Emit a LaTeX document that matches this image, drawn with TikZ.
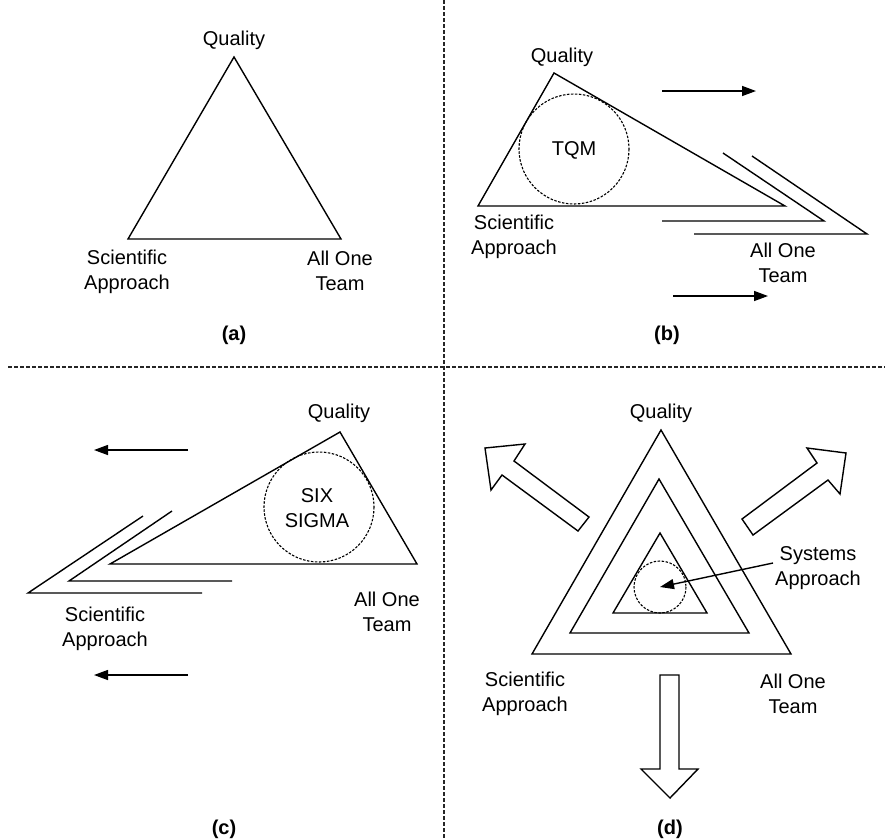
\documentclass[tikz,border=0pt]{standalone}
\usepackage{fontspec}
\setmainfont{Liberation Sans}
\usetikzlibrary{arrows.meta}

\begin{document}
\begin{tikzpicture}[x=1pt, y=-1pt, line width=1.4pt, line join=miter,
        lbl/.style={font=\fontsize{20}{25}\selectfont, align=center, inner sep=0pt},
        panelcap/.style={font=\fontsize{20}{25}\selectfont\bfseries, inner sep=0pt},
        divider/.style={line width=1.1pt, dash pattern=on 4pt off 2pt, black!85},
        halo/.style={line width=1.1pt, dash pattern=on 2.5pt off 1.5pt},
        flow/.style={-{Triangle[length=14pt, width=10pt]}}]
    \useasboundingbox (0, 0) rectangle (885, 839);

    % dividers
    \draw[divider] (8, 367) -- (885, 367);
    \draw[divider] (444, 0) -- (444, 839);

    % (a)
    \draw (234, 57) -- (128, 239) -- (341, 239) -- cycle;
    \node[lbl] (aq) at (234, 40) {Quality};
    \node[lbl] (as) at (127, 272) {Scientific\\Approach};
    \node[lbl] (at) at (340, 271) {All One\\Team};
    \node[panelcap] (acap) at (234, 335) {(a)};

    % (b)
    \draw (554, 73) -- (478, 206) -- (785, 206) -- cycle;
    \draw[halo] (574, 149) circle (55);
    \node[lbl] (btqm) at (574, 150) {TQM};
    \draw (723, 153) -- (824, 221) -- (662, 221);
    \draw (752, 156) -- (867, 234) -- (694, 234);
    \coordinate (btop1) at (662, 91);
    \coordinate (btop2) at (756, 91);
    \coordinate (bbot1) at (673, 296);
    \coordinate (bbot2) at (768, 296);
    \draw[flow] (btop1) -- (btop2);
    \draw[flow] (bbot1) -- (bbot2);
    \node[lbl] (bq) at (562, 57) {Quality};
    \node[lbl] (bs) at (514, 237) {Scientific\\Approach};
    \node[lbl] (bt) at (783, 263) {All One\\Team};
    \node[panelcap] (bcap) at (667, 335) {(b)};

    % (c)
    \draw (340, 432) -- (110, 564) -- (417, 564) -- cycle;
    \draw[halo] (319, 507) circle (55);
    \node[lbl] (csig) at (317, 508) {SIX\\SIGMA};
    \draw (143, 516) -- (28, 593) -- (202, 593);
    \draw (172, 511) -- (69, 581) -- (232, 581);
    \coordinate (ctop1) at (188, 450);
    \coordinate (ctop2) at (94, 450);
    \coordinate (cbot1) at (188, 675);
    \coordinate (cbot2) at (94, 675);
    \draw[flow] (ctop1) -- (ctop2);
    \draw[flow] (cbot1) -- (cbot2);
    \node[lbl] (cq) at (339, 413) {Quality};
    \node[lbl] (cs) at (105, 629) {Scientific\\Approach};
    \node[lbl] (ct) at (387, 612) {All One\\Team};
    \node[panelcap] (ccap) at (224, 829) {(c)};

    % (d)
    \draw (661, 430) -- (532, 654) -- (791, 654) -- cycle;
    \draw (659, 479) -- (570, 633) -- (749, 633) -- cycle;
    \draw (660, 533) -- (613, 613) -- (707, 613) -- cycle;
    \draw[halo] (660, 587) circle (26);
    \coordinate (dcore) at (660, 587);
    \node[lbl] (dsys) at (818, 568) {Systems\\Approach};
    \draw[flow] (773, 563) -- (dcore);
    \draw (485, 448) -- (525, 444) -- (514, 461) -- (589, 517) -- (578, 531)
        -- (502, 475) -- (491, 490) -- cycle;
    \draw (846, 453) -- (807, 448) -- (817, 463) -- (742, 519) -- (753, 535)
        -- (828, 480) -- (840, 494) -- cycle;
    \draw (660, 675) -- (679, 675) -- (679, 769) -- (698, 769) -- (670, 798)
        -- (641, 769) -- (660, 769) -- cycle;
    \node[lbl] (dq) at (661, 413) {Quality};
    \node[lbl] (ds) at (525, 694) {Scientific\\Approach};
    \node[lbl] (dt) at (793, 694) {All One\\Team};
    \node[panelcap] (dcap) at (670, 829) {(d)};
\end{tikzpicture}
\end{document}
